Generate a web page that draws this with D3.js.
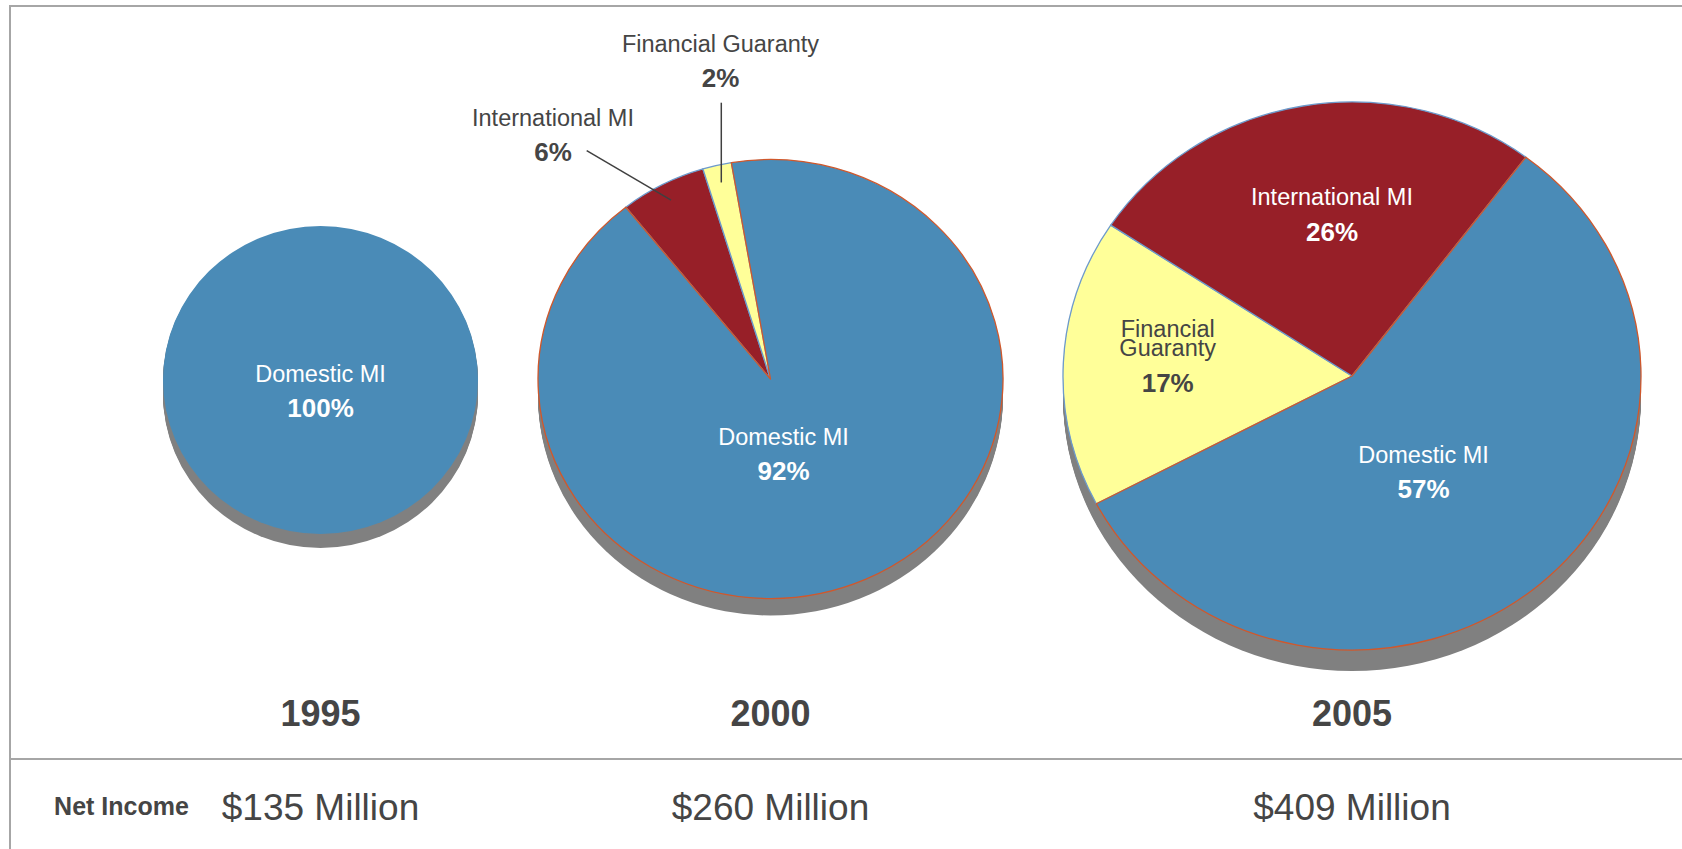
<!DOCTYPE html>
<html>
<head>
<meta charset="utf-8">
<script src="https://cdn.jsdelivr.net/npm/d3@7"></script>
<style>
  html, body { margin: 0; padding: 0; background: #ffffff; }
  svg { display: block; font-family: "Liberation Sans", Arial, Helvetica, sans-serif; }
</style>
</head>
<body>
<svg id="chart" width="1682" height="849"></svg>
<script>
// ---- data ----
const segments   = ["Domestic MI", "International MI", "Financial Guaranty"];
const years      = ["1995", "2000", "2005"];
const netIncome  = ["$135 Million", "$260 Million", "$409 Million"];
const share1995  = [100, 0, 0];
const share2000  = [92, 6, 2];
const share2005  = [57, 26, 17];
const shares     = [share1995, share2000, share2005];

// ---- styling / layout ----
const segColor  = ["#4a8bb7", "#971f28", "#ffff99"];
const segStroke = ["#d0582c", "#6d9acb", "#6d9acb"];
const inkDark   = "#454545";
const frameCol  = "#a6a6a6";

// one entry per year: centre, radii, extrusion depth, start angle (deg),
// clockwise segment order, and where each label sits
const pies = [
  { cx: 320.5, cy: 380, rx: 157.5, ry: 154, depth: 14, start: 0, order: [0], stroke: false,
    labels: [ { seg: 0, x: 320.5, y: 381.7, fill: "#ffffff", lines: ["Domestic MI"], pctDy: 35 } ] },
  { cx: 770.5, cy: 379, rx: 232.5, ry: 219.5, depth: 17, start: -9.7, order: [0, 1, 2], stroke: true,
    labels: [
      { seg: 0, x: 783.5, y: 445,   fill: "#ffffff", lines: ["Domestic MI"], pctDy: 35 },
      { seg: 1, x: 553,   y: 126,   fill: inkDark, lines: ["International MI"], pctDy: 34.7,
        leader: { x: 586.7, y: 150.7, r: 0.92 } },
      { seg: 2, x: 720.5, y: 51.7,  fill: inkDark, lines: ["Financial Guaranty"], pctDy: 35.6,
        leader: { y: 102.7, r: 0.92, vertical: true } }
    ] },
  { cx: 1352, cy: 376, rx: 289, ry: 274, depth: 21, start: 37, order: [0, 2, 1], stroke: true,
    labels: [
      { seg: 0, x: 1423.5, y: 463,   fill: "#ffffff", lines: ["Domestic MI"], pctDy: 35 },
      { seg: 1, x: 1332,   y: 205,   fill: "#ffffff", lines: ["International MI"], pctDy: 35.7 },
      { seg: 2, x: 1167.7, y: 336.7, fill: inkDark, lines: ["Financial", "Guaranty"], lineGap: 19.5, pctDy: 55 }
    ] }
];

const svg = d3.select("#chart");

// ---- frame lines ----
const frame = svg.append("g").attr("stroke", frameCol).attr("stroke-width", 2);
frame.append("line").attr("x1", 10).attr("x2", 1682).attr("y1", 6).attr("y2", 6);
frame.append("line").attr("x1", 10).attr("x2", 10).attr("y1", 5).attr("y2", 849);
frame.append("line").attr("x1", 10).attr("x2", 1682).attr("y1", 759).attr("y2", 759);

const toRad = d => d * Math.PI / 180;

pies.forEach((p, i) => {
  const values = shares[i];
  const k = p.ry / p.rx;

  const pie = d3.pie()
    .sort(null)
    .value(idx => values[idx])
    .startAngle(toRad(p.start))
    .endAngle(toRad(p.start) + 2 * Math.PI);
  const arcs = pie(p.order);
  const bySeg = {};
  arcs.forEach(a => { bySeg[a.data] = a; });

  const arc = d3.arc().innerRadius(0).outerRadius(p.rx);

  // extruded grey side of the disc
  const side = svg.append("g")
    .attr("transform", `translate(${p.cx},${p.cy}) scale(1,${k})`);
  d3.range(1, p.depth + 1).forEach(d => {
    side.append("ellipse")
      .attr("cx", 0).attr("cy", d / k)
      .attr("rx", p.rx).attr("ry", p.rx)
      .attr("fill", "#808080");
  });

  // slices (domestic drawn last so its outline stays on top)
  const g = svg.append("g")
    .attr("transform", `translate(${p.cx},${p.cy}) scale(1,${k})`);
  const drawOrder = arcs.filter(a => a.value > 0)
    .sort((a, b) => (a.data === 0) - (b.data === 0));
  g.selectAll("path.slice")
    .data(drawOrder)
    .join("path")
    .attr("class", "slice")
    .attr("d", arc)
    .attr("fill", d => segColor[d.data])
    .attr("stroke", d => p.stroke ? segStroke[d.data] : "none")
    .attr("stroke-width", 1.3)
    .attr("vector-effect", "non-scaling-stroke")
    .attr("stroke-linejoin", "round");

  // leader lines for small slices
  p.labels.filter(l => l.leader).forEach(l => {
    const a = bySeg[l.seg];
    const inner = d3.arc().innerRadius(p.rx * l.leader.r).outerRadius(p.rx * l.leader.r);
    const c = inner.centroid(a);
    const ex = p.cx + c[0];
    const ey = p.cy + c[1] * k;
    const sx = l.leader.vertical ? ex : l.leader.x;
    svg.append("line")
      .attr("x1", sx).attr("y1", l.leader.y)
      .attr("x2", ex).attr("y2", ey)
      .attr("stroke", "#404040")
      .attr("stroke-width", 1.5);
  });

  // slice labels: name (possibly wrapped) plus bold percentage
  p.labels.forEach(l => {
    const t = svg.append("g").attr("fill", l.fill).attr("text-anchor", "middle");
    const name = t.append("text")
      .attr("x", l.x)
      .attr("y", l.y)
      .attr("font-size", 23.5);
    l.lines.forEach((line, j) => {
      name.append("tspan")
        .attr("x", l.x)
        .attr("dy", j === 0 ? 0 : (l.lineGap || 0))
        .text(line);
    });
    t.append("text")
      .attr("x", l.x)
      .attr("y", l.y + l.pctDy)
      .attr("font-size", 26)
      .attr("font-weight", "bold")
      .text(values[l.seg] + "%");
  });

  // year under each disc
  svg.append("text")
    .attr("x", p.cx).attr("y", 725.7)
    .attr("text-anchor", "middle")
    .attr("font-size", 36)
    .attr("font-weight", "bold")
    .attr("fill", inkDark)
    .text(years[i]);

  // net income row
  svg.append("text")
    .attr("x", p.cx).attr("y", 820)
    .attr("text-anchor", "middle")
    .attr("font-size", 37)
    .attr("fill", inkDark)
    .text(netIncome[i]);
});

svg.append("text")
  .attr("x", 121.5).attr("y", 815)
  .attr("text-anchor", "middle")
  .attr("font-size", 25)
  .attr("font-weight", "bold")
  .attr("fill", inkDark)
  .text("Net Income");
</script>
</body>
</html>
